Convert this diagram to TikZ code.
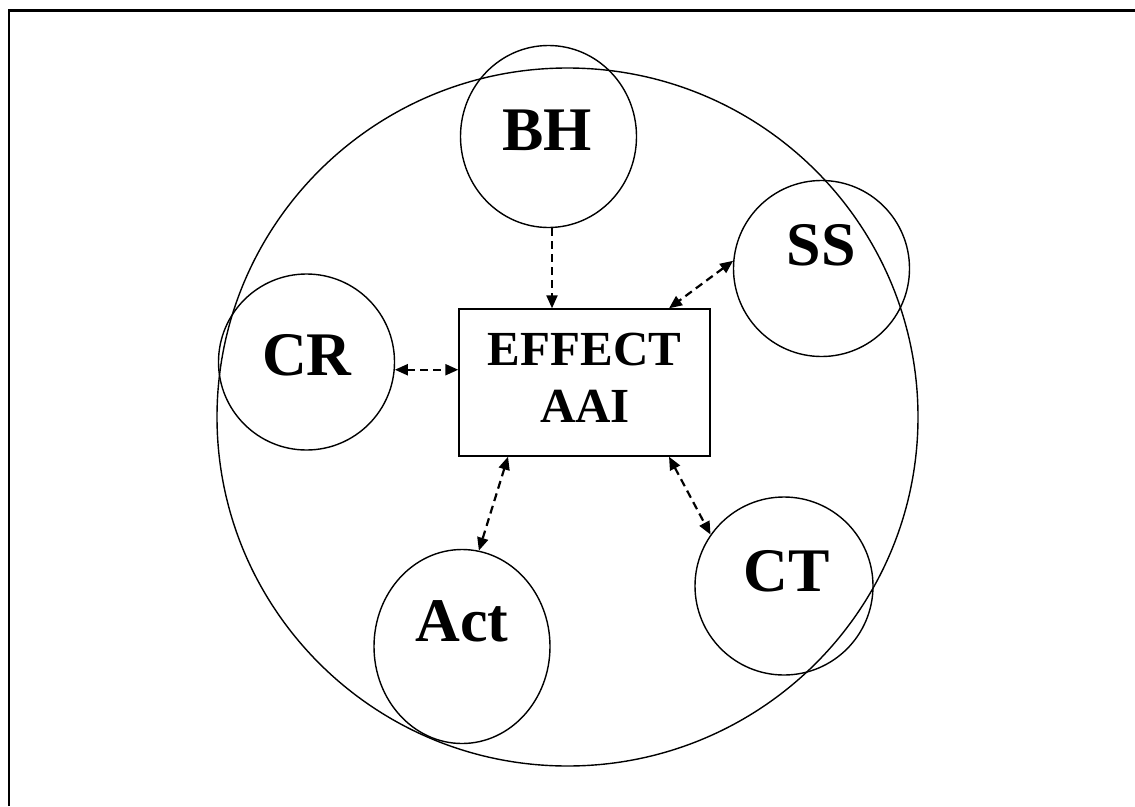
\documentclass[tikz,border=0pt]{standalone}
\usepackage{fontspec}
\setmainfont{Liberation Serif}
\usetikzlibrary{arrows.meta,calc,shapes.geometric}
\begin{document}
\begin{tikzpicture}[x=1pt,y=-1pt,
  circ/.style={ellipse,draw,line width=1.4pt,minimum width=176pt,minimum height=176pt,inner sep=0pt},
  lab/.style={font=\fontsize{62}{62}\selectfont\bfseries,inner sep=0pt},
  efftext/.style={font=\fontsize{49}{49}\selectfont\bfseries,inner sep=0pt},
  conn/.style={line width=2.2pt,dash pattern=on 8pt off 5pt,-{Triangle[length=13pt,width=11pt]}},
  biconn/.style={line width=2.2pt,dash pattern=on 8pt off 5pt,{Triangle[length=13pt,width=11pt]}-{Triangle[length=13pt,width=11pt]}}]
\useasboundingbox (0,0) rectangle (1135,806);
\draw[line width=2.5pt] (9,806) -- (9,10.5) -- (1135,10.5);
\node[ellipse,draw,line width=1.4pt,minimum width=701pt,minimum height=698pt,inner sep=0pt] (outer) at (567.5,417) {};
\node[circ,minimum height=182pt] (BH) at (548.5,136.5) {};
\node[circ] (SS) at (821.5,268.5) {};
\node[circ] (CR) at (306.5,362) {};
\node[circ,minimum width=178pt,minimum height=178pt] (CT) at (784,586) {};
\node[circ,minimum height=194pt] (Act) at (462,646.5) {};
\node[draw,line width=1.4pt,minimum width=251pt,minimum height=147pt,inner sep=0pt] (eff) at (584.5,382.5) {};
\node[lab] (tBH) at (547,130.5) {BH};
\node[lab] (tSS) at (821,245) {SS};
\node[lab] (tCR) at (307,355) {CR};
\node[lab] (tAct) at (462,621) {Act};
\node[lab] (tCT) at (787,571) {CT};
\node[efftext] (tE) at (584.5,350) {EFFECT};
\node[efftext] (tA) at (585,406) {AAI};
\coordinate (bhs) at ($(BH.south)+(3.5,0)$);
\coordinate (bht) at (bhs |- eff.north);
\coordinate (ssr) at ($(eff.north)+(84.5,0)$);
\coordinate (actr) at ($(eff.south)+(-76.5,0)$);
\coordinate (ctr) at ($(eff.south)+(84.5,0)$);
\draw[conn] (bhs) -- (bht);
\draw[biconn] (SS.175) -- (ssr);
\draw[biconn] (CR.-5) -- (CR.-5 -| eff.west);
\draw[biconn] (actr) -- (Act.80);
\draw[biconn] (ctr) -- (CT.145);
\end{tikzpicture}
\end{document}
